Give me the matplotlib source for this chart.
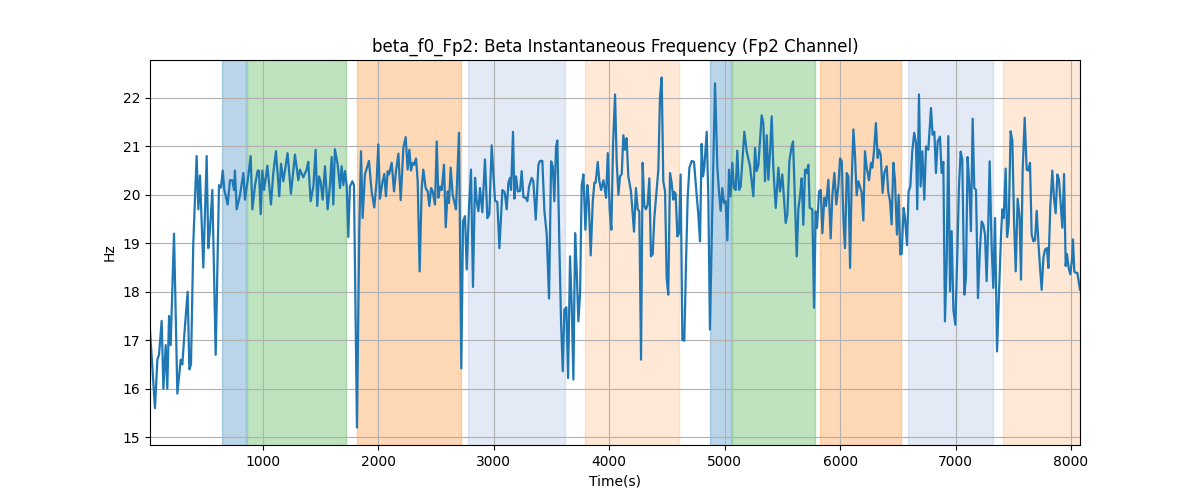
import matplotlib
matplotlib.use("Agg")
import matplotlib.pyplot as plt

# time stamps (s) and beta instantaneous frequency (Hz)
time_s = [
    21, 64, 85, 99, 122, 137, 157, 171, 186, 200, 229, 258, 287, 301, 324, 347, 362, 376, 396, 425,
    440, 454, 483, 512, 526, 541, 561, 590, 619, 636, 651, 665, 694, 714, 734, 749, 757, 772, 801, 830,
    844, 873, 893, 908, 931, 954, 965, 980, 994, 1009, 1038, 1061,
    1069, 1089, 1112, 1141, 1156, 1176, 1213, 1242, 1277, 1306, 1320, 1349, 1378, 1392, 1413, 1436,
    1456, 1470, 1485, 1499, 1517, 1537, 1560, 1580, 1595, 1609, 1623, 1647, 1667, 1681, 1696, 1710,
    1725, 1739, 1753, 1774, 1788, 1814, 1834, 1849, 1863, 1883, 1918, 1941, 1964, 1985, 1999, 2013,
    2034, 2051, 2065, 2080,
    2092, 2115, 2135, 2152, 2173, 2193, 2216, 2236, 2253, 2268, 2282, 2297, 2311, 2326, 2340, 2357,
    2375, 2389, 2409, 2427, 2441, 2456, 2470, 2490, 2505, 2519, 2534, 2548, 2568, 2583, 2600, 2611,
    2626, 2643, 2663, 2672, 2698, 2718, 2733, 2750, 2765, 2785, 2802, 2819, 2837, 2851, 2866, 2880,
    2900, 2923, 2944, 2961, 2981, 3010, 3030, 3048, 3074, 3091,
    3097, 3111, 3126, 3140, 3149, 3166, 3178, 3192, 3207, 3227, 3241, 3256, 3276, 3290, 3305, 3328,
    3342, 3363, 3386, 3400, 3420, 3438, 3458, 3478, 3496, 3510, 3524, 3539, 3550, 3568, 3582, 3597,
    3611, 3628, 3643, 3660, 3675, 3689, 3704, 3718, 3732, 3747, 3761, 3776, 3793, 3810, 3822, 3839,
    3857, 3871, 3882, 3900, 3914, 3929, 3949, 3958, 3972, 3987, 4004, 4018, 4033, 4050, 4064, 4079,
    4093, 4108, 4122,
    4136, 4150, 4165, 4188, 4214, 4231, 4246, 4260, 4275, 4289, 4303, 4318, 4332, 4347, 4361, 4376,
    4390, 4405, 4425, 4439, 4454, 4468, 4483, 4497, 4511, 4526, 4540, 4555, 4563, 4575, 4590, 4604,
    4618, 4633, 4650, 4665, 4679, 4694, 4714, 4734, 4751, 4771, 4786, 4800, 4812, 4823, 4844, 4858,
    4872, 4893, 4916, 4936, 4950, 4965, 4979, 4994, 5008, 5023, 5037, 5051, 5066, 5080, 5095, 5109,
    5124, 5138, 5153, 5170,
    5190, 5219, 5248, 5263, 5277, 5292, 5320, 5335, 5349, 5364, 5378, 5393, 5407, 5422, 5442, 5465,
    5479, 5499, 5514, 5528, 5543, 5560, 5580, 5592, 5609, 5624, 5638, 5653, 5667, 5681, 5696, 5710,
    5725, 5736, 5759, 5774, 5788, 5800, 5817, 5832, 5846, 5863, 5878, 5898, 5918, 5933, 5950, 5967,
    5985, 5999, 6014, 6028, 6042, 6057, 6071, 6086, 6100, 6115, 6129, 6143, 6158, 6172, 6187, 6201,
    6215, 6230, 6250, 6267, 6279, 6293, 6310, 6325, 6336, 6351, 6368, 6383, 6403, 6417, 6432, 6446,
    6461, 6475, 6492, 6507, 6521, 6533, 6550, 6562, 6579, 6593, 6608, 6625, 6642, 6657, 6668, 6683,
    6697, 6712, 6729, 6744, 6764, 6787, 6801, 6816, 6830, 6845, 6865, 6879, 6894, 6908, 6923, 6937,
    6952, 6966, 6981, 6998, 7015, 7029, 7044, 7058, 7076, 7090, 7104, 7119, 7133, 7148, 7162, 7177,
    7194, 7211, 7226, 7240,
    7255, 7269, 7284, 7295, 7313, 7327, 7342, 7359, 7376, 7394, 7405, 7417, 7434, 7446, 7460, 7477,
    7492, 7506, 7521, 7538, 7555, 7567, 7581, 7599, 7616, 7630, 7645, 7659, 7674, 7688, 7703, 7717,
    7732, 7746, 7761, 7775, 7792, 7804, 7821, 7838, 7853, 7867, 7882, 7896, 7911, 7925, 7940, 7954,
    7965, 7980, 7994, 8009, 8017, 8029, 8040, 8055, 8066, 8078,
]

freq_hz = [
    17.2, 15.6, 16.6, 16.7, 17.4, 16.0, 16.9, 16.0, 17.5, 16.9, 19.2, 15.9, 16.6, 16.5, 17.3, 18.0,
    16.4, 16.5, 19.0, 20.8, 19.7, 20.4, 18.5, 20.8, 18.9, 19.3, 20.1, 16.7, 20.2, 20.15, 20.5, 20.1,
    19.8, 20.3, 20.3, 20.1, 20.5, 19.7, 20.0, 20.45, 19.9, 20.4, 20.8, 19.7, 20.2, 20.5, 20.5, 19.6,
    20.5, 20.1, 20.6, 20.0,
    19.8, 20.45, 20.9, 19.97, 20.64, 20.28, 20.86, 20.02, 20.83, 20.3, 20.52, 20.36, 20.52, 20.68,
    19.87, 20.17, 20.93, 19.77, 20.38, 20.28, 19.9, 20.59, 19.7, 20.2, 20.78, 19.8, 20.94, 20.62,
    20.14, 20.59, 20.2, 20.49, 20.2, 19.13, 20.17, 20.28, 20.2, 15.2, 19.25, 20.9, 19.52, 20.42,
    20.7, 20.07, 19.74, 20.3, 21.04, 19.92, 20.25, 20.43, 19.97, 20.49,
    20.42, 20.66, 20.07, 20.49, 20.85, 19.89, 20.97, 21.19, 20.52, 20.93, 20.5, 20.66, 20.62, 20.75,
    20.28, 18.42, 20.14, 20.52, 20.14, 20.07, 19.77, 20.14, 20.07, 19.8, 21.1, 19.94, 20.17, 20.1,
    20.62, 19.33, 20.07, 19.83, 20.56, 20.0, 19.8, 19.7, 21.28, 16.42, 19.45, 19.56, 18.46, 19.77,
    20.52, 18.1, 20.35, 19.87, 19.66, 20.14, 19.64, 20.73, 19.52, 19.6, 21.02, 19.88, 19.85, 18.9,
    20.1, 20.06,
    20.0, 19.7, 20.25, 20.35, 20.1, 21.3, 19.92, 20.38, 20.07, 20.08, 20.49, 19.95, 19.94, 19.87,
    20.17, 20.35, 20.28, 19.49, 20.62, 20.7, 20.7, 19.66, 19.18, 17.86, 20.69, 20.59, 19.87, 21.0,
    21.12, 18.9, 17.39, 16.36, 17.63, 17.68, 16.22, 18.73, 17.66, 16.19, 19.21, 18.42, 17.39, 17.97,
    20.2, 20.42, 19.28, 20.2, 19.87, 18.75, 19.87, 20.25, 20.25, 20.68, 20.28, 20.1, 20.3, 20.17,
    19.94, 20.86, 19.66, 19.28, 21.07, 22.07, 20.69, 20.0, 20.38, 20.43, 21.23,
    20.93, 21.17, 20.38, 20.07, 19.24, 20.14, 19.7, 19.66, 16.6, 20.66, 19.77, 19.7, 19.8, 20.34,
    18.73, 18.77, 19.52, 19.94, 20.52, 22.0, 22.42, 20.28, 20.07, 18.29, 17.94, 20.45, 20.25, 19.9,
    20.06, 20.02, 19.14, 19.21, 20.42, 17.01, 16.99, 18.63, 19.94, 20.56, 20.7, 20.68, 20.17, 19.6,
    19.04, 21.05, 20.38, 20.56, 21.3, 19.94, 17.22, 19.73, 22.3, 20.59, 20.07, 19.67, 20.14, 19.83,
    19.87, 19.06, 20.52, 19.97, 20.66, 20.14, 20.1, 20.91, 20.1, 20.17, 20.7, 21.3,
    20.9, 20.59, 19.97, 20.97, 20.49, 20.62, 21.64, 21.48, 20.28, 21.23, 20.31, 20.9, 21.62, 20.52,
    19.73, 20.56, 20.07, 20.42, 19.9, 19.42, 19.6, 20.69, 21.0, 21.1, 19.87, 18.73, 19.7, 20.0,
    20.34, 19.38, 20.52, 20.45, 20.62, 19.73, 19.7, 17.67, 19.66, 19.32, 20.07, 20.1, 19.21, 19.94,
    19.77, 20.31, 19.1, 20.0, 20.45, 19.8, 20.2, 20.75, 20.69, 19.52, 18.9, 20.45, 20.38, 18.49,
    20.28, 21.35, 20.8, 19.99, 20.28, 20.17, 20.04, 19.47,
    20.9, 20.56, 20.3, 20.66, 20.56, 20.9, 21.48, 20.76, 20.93, 20.83, 20.04, 20.45, 20.59, 20.06,
    19.87, 19.39, 20.66, 20.31, 19.18, 20.0, 18.77, 18.78, 19.73, 19.52, 18.96, 20.07, 20.17, 20.9,
    21.28, 21.07, 19.7, 22.07, 20.17, 20.9, 19.9, 21.0, 20.93, 21.79, 21.24, 21.3, 20.45, 21.1,
    21.2, 20.45, 20.68, 17.39, 18.63, 21.21, 18.01, 19.25, 17.63, 17.32, 18.77, 20.14, 20.89, 20.73,
    17.94, 18.29, 20.78, 20.2, 19.25, 21.57, 20.14, 20.1, 17.87, 18.87, 19.45, 19.39,
    19.18, 18.22, 19.45, 20.69, 18.9, 18.08, 19.52, 16.77, 17.94, 19.18, 19.7, 19.52, 20.54, 19.13,
    19.39, 21.31, 21.12, 19.52, 18.42, 19.92, 19.52, 18.25, 20.49, 21.59, 20.52, 20.5, 20.66, 19.18,
    19.04, 19.06, 19.67, 19.04, 18.49, 18.04, 18.7, 18.87, 18.9, 18.49, 19.77, 20.5, 19.92, 19.62,
    20.42, 20.31, 19.8, 19.32, 20.43, 18.53, 18.78, 18.49, 18.36, 18.67, 19.08, 18.42, 18.39, 18.39,
    18.22, 18.04,
]

# shaded task segments (start, end) in seconds
seg_start = [647, 862, 1814, 2773, 3790, 4875, 5060, 5828, 6590, 7411]
seg_end = [852, 1719, 2715, 3616, 4604, 5054, 5782, 6524, 7321, 8078]
seg_color = ["tab:blue", "tab:green", "tab:orange", "#3b6fc4", "tab:orange",
             "tab:blue", "tab:green", "tab:orange", "#3b6fc4", "tab:orange"]
seg_alpha = [0.3, 0.3, 0.3, 0.14, 0.17, 0.3, 0.3, 0.3, 0.14, 0.17]

fig, ax = plt.subplots(figsize=(12, 5), dpi=100)

for s, e, c, a in zip(seg_start, seg_end, seg_color, seg_alpha):
    ax.axvspan(s, e, color=c, alpha=a)

ax.plot(time_s, freq_hz, color="tab:blue", linewidth=1.6)

ax.set_xlim(time_s[0], time_s[-1])
ax.set_title("beta_f0_Fp2: Beta Instantaneous Frequency (Fp2 Channel)")
ax.set_xlabel("Time(s)")
ax.set_ylabel("Hz")
ax.grid(True)

plt.savefig("out.png", dpi=100)
plt.close()
